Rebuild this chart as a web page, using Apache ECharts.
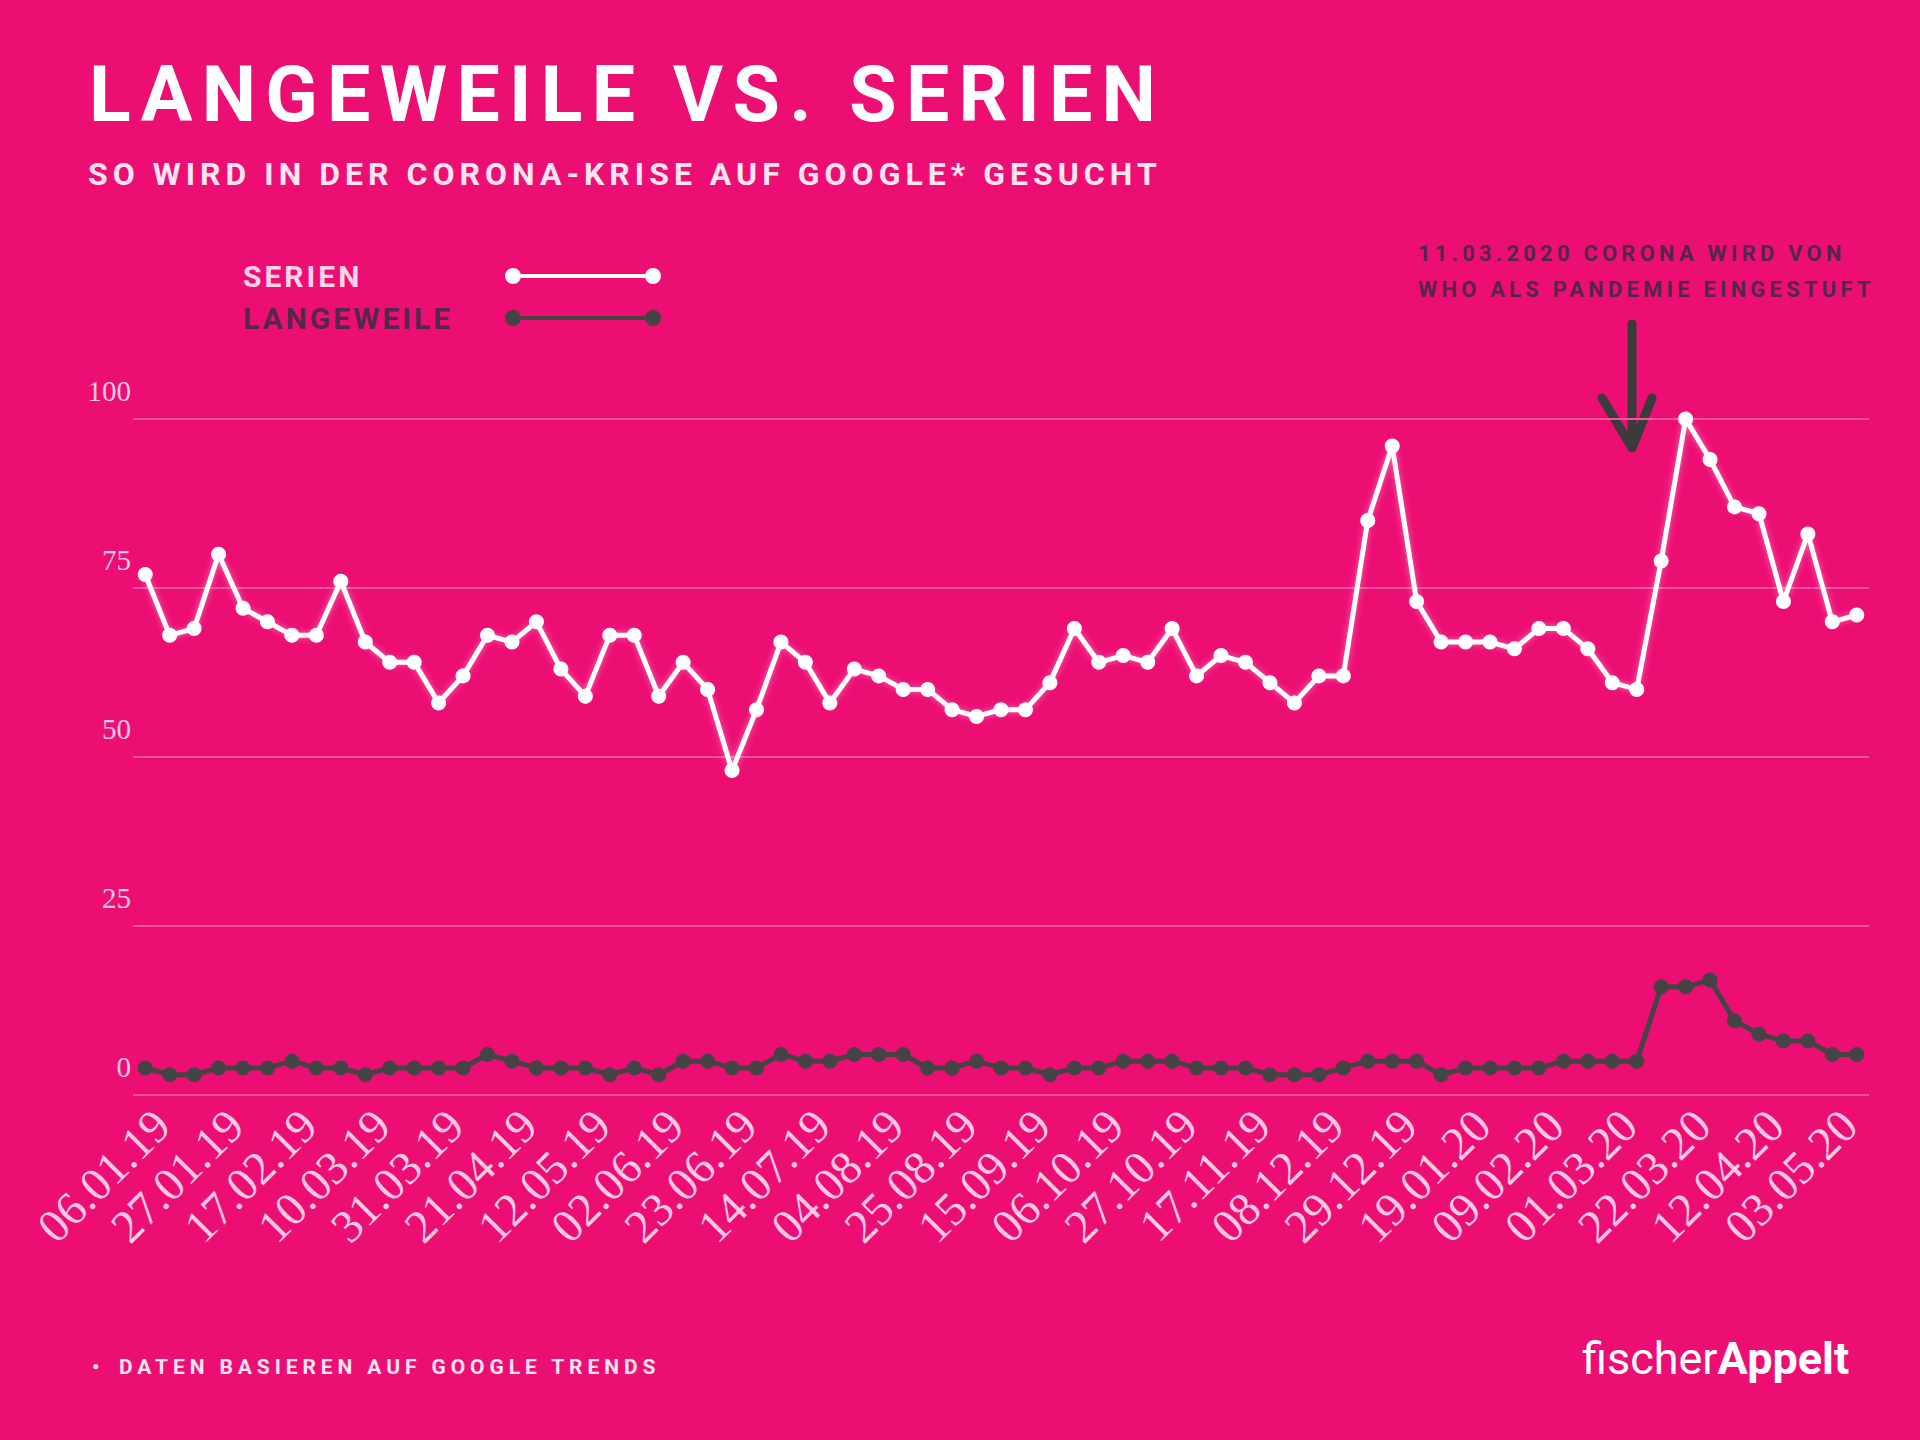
<!DOCTYPE html>
<html><head><meta charset="utf-8">
<script src="https://cdn.jsdelivr.net/npm/echarts@6/dist/echarts.min.js"></script>
<style>
html,body{margin:0;padding:0;background:#ed0e74;}
#chart{width:1920px;height:1440px;}
#chart text[style*="77px"]{letter-spacing:9.3px;}
#chart text[style*="32px"]{letter-spacing:5px;}
#chart text[style*="30px"]{letter-spacing:3px;}
#chart text[style*="22px"]{letter-spacing:4.2px;}
#chart text[style*="21px"]{letter-spacing:4.9px;}
</style></head><body><div id="chart"></div>
<script>
const categories = [
 '06.01.19','13.01.19','20.01.19','27.01.19','03.02.19','10.02.19','17.02.19','24.02.19','03.03.19','10.03.19',
 '17.03.19','24.03.19','31.03.19','07.04.19','14.04.19','21.04.19','28.04.19','05.05.19','12.05.19','19.05.19',
 '26.05.19','02.06.19','09.06.19','16.06.19','23.06.19','30.06.19','07.07.19','14.07.19','21.07.19','28.07.19',
 '04.08.19','11.08.19','18.08.19','25.08.19','01.09.19','08.09.19','15.09.19','22.09.19','29.09.19','06.10.19',
 '13.10.19','20.10.19','27.10.19','03.11.19','10.11.19','17.11.19','24.11.19','01.12.19','08.12.19','15.12.19',
 '22.12.19','29.12.19','05.01.20','12.01.20','19.01.20','26.01.20','02.02.20','09.02.20','16.02.20','23.02.20',
 '01.03.20','08.03.20','15.03.20','22.03.20','29.03.20','05.04.20','12.04.20','19.04.20','26.04.20','03.05.20',
 '10.05.20'
];
const serien = [
 77,68,69,80,72,70,68,68,76,67,
 64,64,58,62,68,67,70,63,59,68,
 68,59,64,60,48,57,67,64,58,63,
 62,60,60,57,56,57,57,61,69,64,
 65,64,69,62,65,64,61,58,62,62,
 85,96,73,67,67,67,66,69,69,66,
 61,60,79,100,94,87,86,73,83,70,
 71
];
const langeweile = [
 4,3,3,4,4,4,5,4,4,3,
 4,4,4,4,6,5,4,4,4,3,
 4,3,5,5,4,4,6,5,5,6,
 6,6,4,4,5,4,4,3,4,4,
 5,5,5,4,4,4,3,3,3,4,
 5,5,5,3,4,4,4,4,5,5,
 5,5,16,16,17,11,9,8,8,6,
 6
];
const seriesNames = ['SERIEN', 'LANGEWEILE'];
const yMin = 0, yMax = 100, yStep = 25;

const titleText = 'LANGEWEILE VS. SERIEN';
const subtitleText = 'SO WIRD IN DER CORONA-KRISE AUF GOOGLE* GESUCHT';
const noteLines = ['11.03.2020 CORONA WIRD VON', 'WHO ALS PANDEMIE EINGESTUFT'];
const footerText = 'DATEN BASIEREN AUF GOOGLE TRENDS';

const chart = echarts.init(document.getElementById('chart'), null, {renderer: 'svg', width: 1920, height: 1440});

const legendIcon = 'path://M0,8a8,8 0 1,0 16,0a8,8 0 1,0 -16,0z M140,8a8,8 0 1,0 16,0a8,8 0 1,0 -16,0z M16,6h124v4h-124z';

chart.setOption({
  animation: false,
  backgroundColor: '#ed0e74',
  grid: {left: 133, right: 51, top: 419, bottom: 345, outerBoundsMode: 'none'},
  legend: {
    orient: 'vertical', left: 238, top: 256, align: 'right',
    itemWidth: 156, itemHeight: 16, itemGap: 12,
    icon: legendIcon,
    itemStyle: {borderWidth: 0},
    formatter: n => '{a|' + n + '}',
    textStyle: {
      rich: {a: {width: 257, align: 'left', fontSize: 30, fontWeight: 'bold', fontFamily: 'Roboto', lineHeight: 30}}
    },
    data: [
      {name: seriesNames[0], textStyle: {color: '#fcd3e8'}},
      {name: seriesNames[1], textStyle: {color: '#55284a'}}
    ]
  },
  xAxis: {
    type: 'category', data: categories, boundaryGap: true,
    axisLine: {show: false}, axisTick: {show: false},
    axisLabel: {interval: 2, rotate: 45, margin: 6, verticalAlign: 'top', fontSize: 47, fontFamily: 'Liberation Serif', color: '#fcc9e4'}
  },
  yAxis: {
    type: 'value', min: yMin, max: yMax, interval: yStep,
    axisLine: {show: false}, axisTick: {show: false},
    splitLine: {lineStyle: {color: '#f6529f', width: 2}},
    axisLabel: {margin: 2, fontSize: 29, fontFamily: 'Liberation Serif', color: '#fcc9e4', verticalAlign: 'bottom', padding: [0, 0, 14, 0]}
  },
  series: [
    {name: seriesNames[0], type: 'line', data: serien, z: 3,
     symbol: 'circle', symbolSize: 15, color: '#ffffff',
     lineStyle: {width: 5, color: '#ffffff', shadowBlur: 6, shadowColor: 'rgba(255,255,255,0.4)'},
     itemStyle: {color: '#ffffff'}},
    {name: seriesNames[1], type: 'line', data: langeweile, z: 2,
     symbol: 'circle', symbolSize: 15, color: '#444444',
     lineStyle: {width: 5, color: '#444444'},
     itemStyle: {color: '#444444'}}
  ],
  graphic: [
    {type: 'text', style: {x: 89, y: 95, text: titleText, fill: '#ffffff', font: 'bold 77px Roboto', verticalAlign: 'middle'}},
    {type: 'text', style: {x: 88, y: 174, text: subtitleText, fill: '#fde4f1', font: 'bold 32px Roboto', verticalAlign: 'middle'}},
    {type: 'text', style: {x: 1418, y: 253, text: noteLines[0], fill: '#55264a', font: 'bold 22px Roboto', verticalAlign: 'middle'}},
    {type: 'text', style: {x: 1418, y: 289, text: noteLines[1], fill: '#55264a', font: 'bold 22px Roboto', verticalAlign: 'middle'}},
    {type: 'polyline', shape: {points: [[1632, 324], [1632, 446]]}, style: {stroke: '#3b3b3b', lineWidth: 9, lineCap: 'round', fill: null}},
    {type: 'polyline', shape: {points: [[1602, 398], [1632, 448], [1652, 398]]}, style: {stroke: '#3b3b3b', lineWidth: 9, lineCap: 'round', lineJoin: 'round', fill: null}},
    {type: 'text', style: {x: 92, y: 1367, text: '\u2022', fill: '#fde4f1', font: 'bold 21px Roboto', verticalAlign: 'middle'}},
    {type: 'text', style: {x: 119, y: 1367, text: footerText, fill: '#fde4f1', font: 'bold 21px Roboto', verticalAlign: 'middle'}},
    {type: 'text', style: {x: 1582, y: 1358, text: '{a|fischer}{b|Appelt}', verticalAlign: 'middle',
      rich: {a: {fontFamily: 'Roboto', fontSize: 45, fontWeight: 'normal', fill: '#ffffff'},
             b: {fontFamily: 'Roboto', fontSize: 45, fontWeight: 'bold', fill: '#ffffff'}}}}
  ]
});
</script></body></html>
